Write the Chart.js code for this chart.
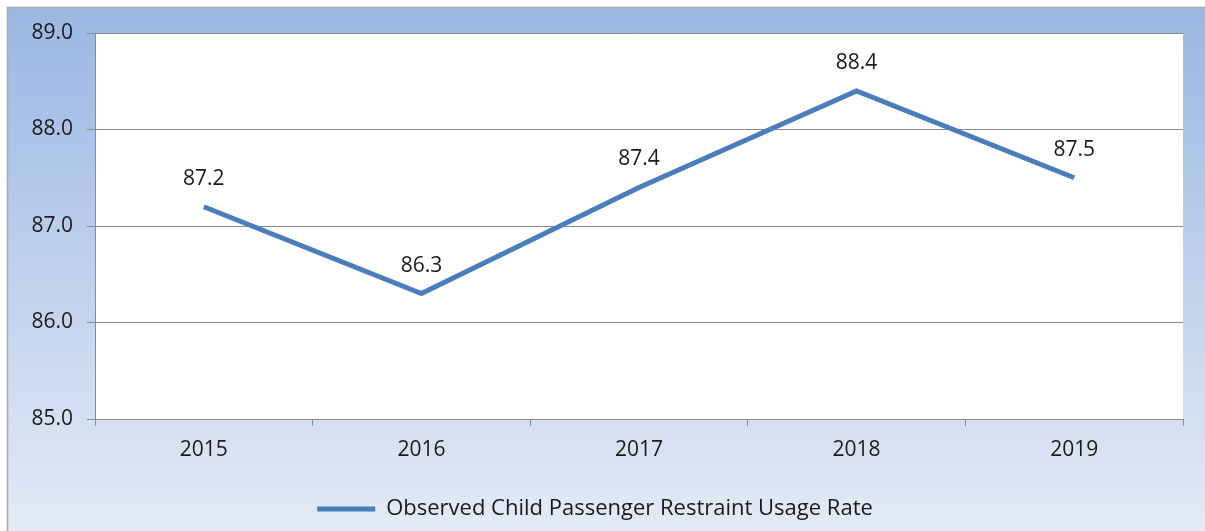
<!DOCTYPE html>
<html>
<head>
<meta charset="utf-8">
<script src="https://cdn.jsdelivr.net/npm/chart.js@4/dist/chart.umd.min.js"></script>
<style>
  html, body { margin: 0; padding: 0; background: #fff; }
  #wrap { width: 1205px; height: 531px; position: relative; }
</style>
</head>
<body>
<div id="wrap"><canvas id="usageChart"></canvas></div>
<script>
const years = ['2015', '2016', '2017', '2018', '2019'];
const usageRate = [87.2, 86.3, 87.4, 88.4, 87.5];
const seriesName = 'Observed Child Passenger Restraint Usage Rate';
const yMin = 85.0, yMax = 89.0, yStep = 1.0;

const FONT = "'Open Sans', sans-serif";
const FONT_SIZE = 21;
const LINE_BLUE = '#4a7ebb';

// gradient backdrop + white plot area
const backdrop = {
  id: 'backdrop',
  beforeDraw(chart) {
    const { ctx, width, height, chartArea: a } = chart;
    ctx.save();
    ctx.fillStyle = '#ffffff';
    ctx.fillRect(0, 0, width, height);
    const g = ctx.createLinearGradient(0, 7, 0, height);
    g.addColorStop(0, '#9ab7e3');
    g.addColorStop(1, '#e4eaf6');
    ctx.fillStyle = g;
    ctx.fillRect(7, 7, width - 7, height - 7);
    ctx.strokeStyle = '#a8a8a8';
    ctx.lineWidth = 1.5;
    ctx.beginPath();
    ctx.moveTo(width, 7.5);
    ctx.lineTo(7.5, 7.5);
    ctx.lineTo(7.5, height);
    ctx.stroke();
    ctx.fillStyle = '#ffffff';
    ctx.fillRect(a.left, a.top, a.right - a.left, a.bottom - a.top);
    ctx.restore();
  }
};

// value labels above each point
const valueLabels = {
  id: 'valueLabels',
  afterDatasetsDraw(chart) {
    const { ctx } = chart;
    const meta = chart.getDatasetMeta(0);
    ctx.save();
    ctx.font = FONT_SIZE + 'px ' + FONT;
    ctx.fillStyle = '#1a1a1a';
    ctx.textAlign = 'center';
    ctx.textBaseline = 'middle';
    meta.data.forEach((pt, i) => {
      ctx.fillText(usageRate[i].toFixed(1), pt.x, pt.y - 28);
    });
    ctx.restore();
  }
};

new Chart(document.getElementById('usageChart'), {
  type: 'line',
  data: {
    labels: years,
    datasets: [{
      label: seriesName,
      data: usageRate,
      borderColor: LINE_BLUE,
      backgroundColor: LINE_BLUE,
      borderWidth: 5,
      tension: 0,
      pointRadius: 0,
      pointHoverRadius: 0
    }]
  },
  options: {
    responsive: true,
    maintainAspectRatio: false,
    animation: false,
    layout: { padding: { left: 7, right: 22, top: 33, bottom: 1 } },
    plugins: {
      legend: {
        position: 'bottom',
        labels: {
          usePointStyle: true,
          pointStyle: 'line',
          pointStyleWidth: 58,
          boxHeight: 5,
          color: '#1a1a1a',
          font: { size: 22, family: FONT },
          padding: 6
        }
      },
      tooltip: { enabled: false }
    },
    scales: {
      x: {
        offset: true,
        grid: { offset: true, drawOnChartArea: false, color: '#8c8c8c', tickLength: 7 },
        border: { color: '#8c8c8c' },
        ticks: { color: '#1a1a1a', font: { size: FONT_SIZE, family: FONT }, padding: 11 },
        afterFit(s) { s.height = 73; }
      },
      y: {
        min: yMin,
        max: yMax,
        grid: { color: '#8c8c8c', tickLength: 8 },
        border: { color: '#8c8c8c' },
        ticks: {
          stepSize: yStep,
          color: '#1a1a1a',
          font: { size: FONT_SIZE, family: FONT },
          padding: 14,
          callback: v => Number(v).toFixed(1)
        },
        afterFit(s) { s.width = 88; }
      }
    }
  },
  plugins: [backdrop, valueLabels]
});
</script>
</body>
</html>
